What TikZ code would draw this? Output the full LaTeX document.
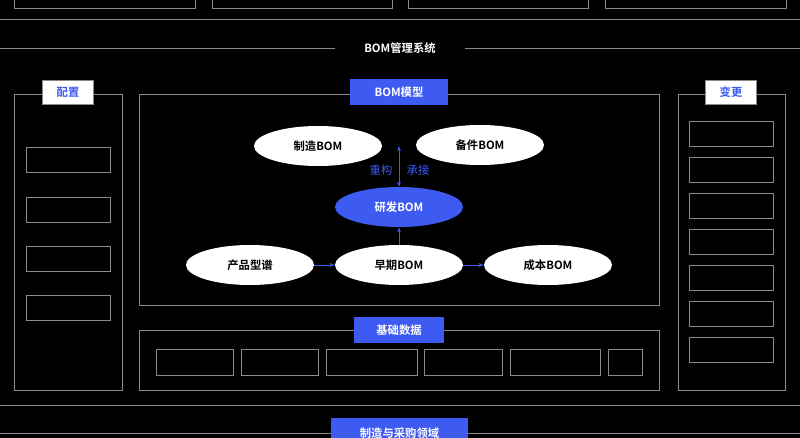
\documentclass[tikz,border=0pt]{standalone}
\usepackage{fontspec}
\setmainfont{Noto Sans CJK SC}[BoldFont={Noto Sans CJK SC Bold}]
\usetikzlibrary{shapes.geometric,arrows.meta}
\definecolor{bblue}{HTML}{3D5AF1}
\definecolor{lgray}{HTML}{8A8A8A}
\tikzset{
 frame/.style={draw=lgray,line width=0.6pt},
 lbl/.style={fill=bblue,text=white,font=\bfseries\fontsize{8.5}{9}\selectfont,minimum height=19pt,inner sep=0pt},
 wlbl/.style={fill=white,draw=lgray,text=bblue,font=\bfseries\fontsize{8.5}{9}\selectfont,minimum width=38pt,minimum height=18pt,inner sep=0pt},
 ell/.style={ellipse,fill=white,text=black,font=\bfseries\fontsize{8.5}{9}\selectfont,minimum width=96pt,minimum height=30pt,inner sep=0pt},
 arr/.style={bblue,line width=0.6pt,-{Stealth[length=4pt]}}
}
\begin{document}
\begin{tikzpicture}[x=0.75pt,y=-0.75pt]
\fill[black] (0,0) rectangle (800,438);
\useasboundingbox (0,0) rectangle (800,438);
% top boxes
\foreach \a/\b in {14/195,212/392,408/588,605/786}
  \draw[frame] (\a,-5) rectangle (\b,8);
\draw[frame] (0,19) -- (800,19);
\node[text=white,font=\bfseries\fontsize{8.5}{9}\selectfont] (title) at (400,48) {BOM管理系统};
\draw[frame] (0,48) -- (335,48);
\draw[frame] (465,48) -- (800,48);
% left panel
\draw[frame] (14,94) rectangle (122,390);
\node[wlbl] (pz) at (68,92) {配置};
\foreach \y in {147,197,246,295} \draw[frame] (26,\y) rectangle (110,\y+25);
% right panel
\draw[frame] (678,94) rectangle (785,390);
\node[wlbl] (bg) at (731,92) {变更};
\foreach \y in {121,157,193,229,265,301,337} \draw[frame] (689,\y) rectangle (773,\y+25);
% center
\draw[frame] (139,94) rectangle (659,305);
\node[lbl,minimum width=74pt] (model) at (399,92) {BOM模型};
\node[ell] (zz) at (318,146) {制造BOM};
\node[ell] (bj) at (480,145) {备件BOM};
\node[ell,fill=bblue,text=white] (yf) at (399,207) {研发BOM};
\node[ell] (cp) at (250,265) {产品型谱};
\node[ell] (zq) at (399,265) {早期BOM};
\node[ell] (cb) at (548,265) {成本BOM};
\coordinate (top) at (399,146);
\draw[arr,{Stealth[length=4pt]}-{Stealth[length=4pt]}] (yf.north) -- (top);
\node[text=bblue,font=\fontsize{8.5}{9}\selectfont] (cg) at (381,170) {重构};
\node[text=bblue,font=\fontsize{8.5}{9}\selectfont] (cj) at (418,170) {承接};
\draw[arr] (zq.north) -- (yf.south);
\draw[arr] (cp.east) -- (zq.west);
\draw[arr] (zq.east) -- (cb.west);
% base data
\draw[frame] (139,330) rectangle (659,390);
\node[lbl,minimum width=68pt] (jc) at (399,330) {基础数据};
\foreach \a/\b in {156/233,241/318,326/417,424/502,510/600,608/642}
  \draw[frame] (\a,349) rectangle (\b,375);
% bottom
\draw[frame] (0,405) -- (800,405);
\draw[frame] (0,433) -- (800,433);
\node[lbl,minimum width=103pt,minimum height=22pt,anchor=north] (zc) at (399.5,418) {制造与采购领域};
\end{tikzpicture}
\end{document}
